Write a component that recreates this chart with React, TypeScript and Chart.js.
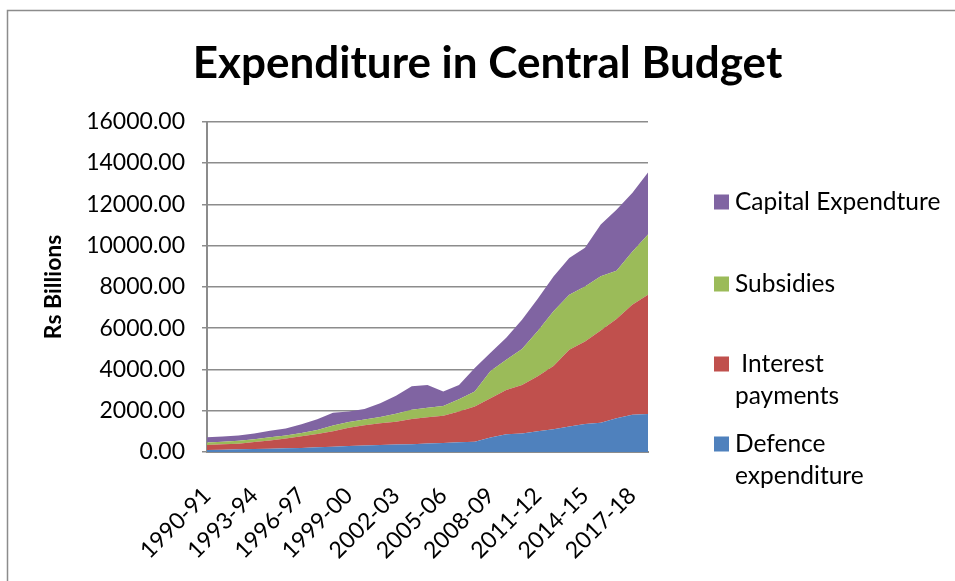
import React, { useEffect, useRef } from 'react';
import { Chart, registerables } from 'chart.js';

Chart.register(...registerables);

const categories = [
  '1990-91', '1991-92', '1992-93', '1993-94', '1994-95', '1995-96', '1996-97', '1997-98',
  '1998-99', '1999-00', '2000-01', '2001-02', '2002-03', '2003-04', '2004-05', '2005-06',
  '2006-07', '2007-08', '2008-09', '2009-10', '2010-11', '2011-12', '2012-13', '2013-14',
  '2014-15', '2015-16', '2016-17', '2017-18', '2018-19',
];

const defence = [100, 115, 130, 145, 160, 180, 195, 225, 260, 290, 320, 340, 360, 380, 410, 440, 470, 500, 700, 860, 900, 1000, 1100, 1230, 1360, 1420, 1630, 1800, 1840];
const interest = [240, 255, 270, 335, 400, 470, 565, 645, 750, 890, 980, 1050, 1110, 1220, 1270, 1320, 1490, 1700, 1900, 2150, 2350, 2670, 3070, 3720, 3990, 4470, 4810, 5330, 5780];
const subsidies = [120, 130, 140, 140, 160, 150, 160, 190, 270, 270, 270, 310, 380, 450, 470, 470, 600, 730, 1320, 1460, 1740, 2190, 2650, 2670, 2670, 2620, 2340, 2570, 2920];
const capital = [260, 250, 260, 280, 310, 340, 430, 530, 620, 510, 510, 660, 870, 1140, 1100, 700, 690, 1140, 890, 1060, 1420, 1560, 1680, 1780, 1880, 2510, 2960, 2850, 3000];

const seriesLabels = ['Defence expenditure', ' Interest payments', 'Subsidies', 'Capital Expendture'];
const seriesColors = ['#4F81BD', '#C0504D', '#9BBB59', '#8064A2'];
// legend shown top to bottom (reverse of stacking order), with Excel-like wrapped lines
const legendLines = [['Capital Expendture'], ['Subsidies'], [' Interest', 'payments'], ['Defence', 'expenditure']];

const yTickValues = [0, 2000, 4000, 6000, 8000, 10000, 12000, 14000, 16000];

const titleText = 'Expenditure in Central Budget';
const yTitle = 'Rs Billions';

const FONT = 'Lato, "Open Sans", sans-serif';

export default function App() {
  const ref = useRef<HTMLCanvasElement | null>(null);

  useEffect(() => {
    if (!ref.current) return;

    const framePlugin = {
      id: 'frame',
      beforeDraw(chart: any) {
        const ctx = chart.ctx;
        ctx.save();
        ctx.fillStyle = '#ffffff';
        ctx.fillRect(0, 0, chart.width, chart.height);
        ctx.strokeStyle = '#8c8c8c';
        ctx.lineWidth = 1.5;
        ctx.beginPath();
        ctx.moveTo(7.5, chart.height);
        ctx.lineTo(7.5, 10.5);
        ctx.lineTo(chart.width, 10.5);
        ctx.stroke();
        ctx.restore();
      },
    };

    const legendPlugin = {
      id: 'sideLegend',
      afterDraw(chart: any) {
        const ctx = chart.ctx;
        const rowY = [202, 284, 364, 444];
        const boxX = 714;
        const textX = 735;
        const box = 15;
        const lineGap = 32;
        ctx.save();
        ctx.font = `24.5px ${FONT}`;
        ctx.textBaseline = 'middle';
        ctx.textAlign = 'left';
        legendLines.forEach((lines, i) => {
          const ds = chart.data.datasets[chart.data.datasets.length - 1 - i];
          ctx.fillStyle = ds.backgroundColor;
          ctx.fillRect(boxX, rowY[i] - box / 2, box, box);
          ctx.fillStyle = '#000000';
          lines.forEach((t, j) => ctx.fillText(t, textX, rowY[i] + j * lineGap));
        });
        ctx.restore();
      },
    };

    const seriesData = [defence, interest, subsidies, capital];

    const chart = new Chart(ref.current, {
      type: 'line',
      data: {
        labels: categories,
        datasets: seriesData.map((d, i) => ({
          label: seriesLabels[i],
          data: d,
          backgroundColor: seriesColors[i],
          borderColor: seriesColors[i],
          borderWidth: 0,
          pointRadius: 0,
          tension: 0,
          fill: i === 0 ? 'origin' : '-1',
        })),
      },
      options: {
        animation: false,
        responsive: false,
        layout: { padding: { left: 20, right: 0, top: 0, bottom: 0 } },
        plugins: {
          legend: { display: false },
          tooltip: { enabled: false },
          title: {
            display: true,
            text: titleText,
            color: '#000000',
            font: { family: FONT, size: 44, weight: 'bold' },
            padding: { top: 37, bottom: 32 },
          },
        },
        scales: {
          x: {
            type: 'category',
            offset: false,
            grid: { display: false, drawTicks: false },
            border: { display: true, color: '#8c8c8c', width: 2 },
            ticks: {
              autoSkip: false,
              maxRotation: 45,
              minRotation: 45,
              padding: 30,
              color: '#000000',
              font: { family: FONT, size: 23 },
              callback: (_v: any, i: number) => (i % 3 === 0 ? categories[i] : ''),
            },
            afterFit: (s: any) => {
              s.height = 129;
            },
          },
          y: {
            stacked: true,
            min: 0,
            max: 16000,
            afterBuildTicks: (s: any) => {
              s.ticks = yTickValues.map((v) => ({ value: v }));
            },
            grid: { color: '#8c8c8c', lineWidth: 1.5, tickLength: 5 },
            border: { display: true, color: '#8c8c8c', width: 2 },
            ticks: {
              padding: 17,
              color: '#000000',
              font: { family: FONT, size: 23 },
              callback: (v: any) => Number(v).toFixed(2),
            },
            title: {
              display: true,
              text: yTitle,
              color: '#000000',
              font: { family: FONT, size: 23, weight: 'bold' },
              padding: { top: 20, bottom: 0 },
            },
            afterFit: (s: any) => {
              s.width = 187;
            },
          },
          yR: {
            type: 'linear',
            position: 'right',
            display: true,
            grid: { display: false, drawTicks: false },
            border: { display: false },
            ticks: { display: false },
            afterFit: (s: any) => {
              s.width = 307;
            },
          },
        },
      },
      plugins: [framePlugin, legendPlugin],
    });

    return () => chart.destroy();
  }, []);

  return (
    <div style={{ position: 'absolute', left: 0, top: 0, width: 955, height: 581 }}>
      <canvas ref={ref} width={955} height={581} style={{ width: 955, height: 581 }} />
    </div>
  );
}
